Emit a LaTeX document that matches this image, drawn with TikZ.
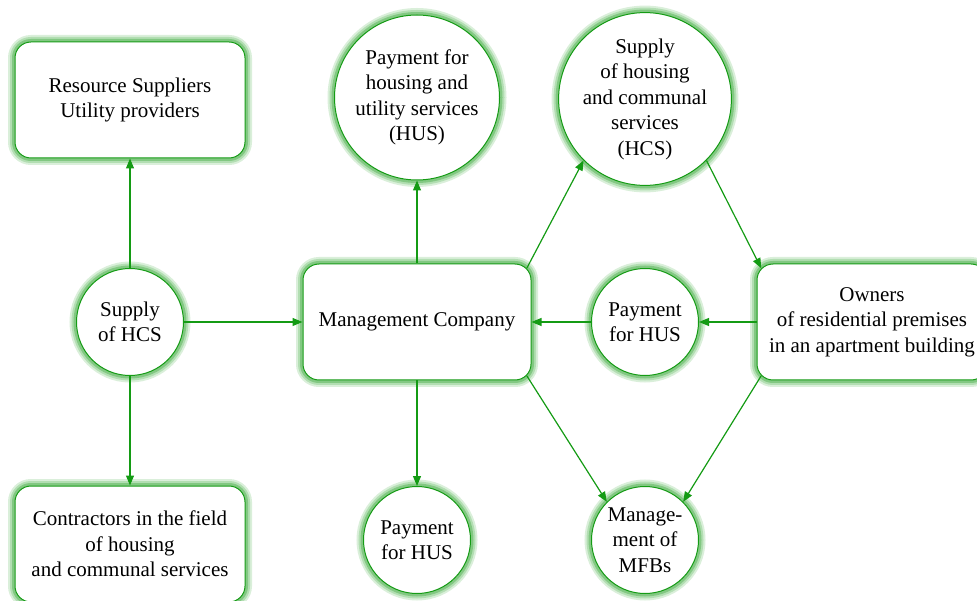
\documentclass[tikz,border=0pt]{standalone}
\usepackage{fontspec}
\setmainfont{Liberation Serif}
\usetikzlibrary{arrows.meta,calc}
\definecolor{lg}{RGB}{20,155,20}
\definecolor{glowA}{RGB}{218,239,218}
\definecolor{glowB}{RGB}{178,222,178}
\definecolor{glowC}{RGB}{130,200,130}
\tikzset{
 glow/.style={preaction={draw=glowA,line width=14pt},preaction={draw=glowB,line width=10pt},preaction={draw=glowC,line width=6pt}},
 base/.style={glow, draw=lg, line width=1pt, fill=white, align=center, font=\fontsize{21}{25.5}\selectfont, inner sep=0pt},
 box/.style={base, rectangle, rounded corners=16pt, minimum width=230pt, minimum height=116pt},
 bigc/.style={base, circle, minimum size=165pt},
 smallc/.style={base, circle, minimum size=107pt},
 conn/.style={draw=lg, line width=1.2pt, -{Triangle[length=10pt,width=8pt]}}
}
\begin{document}
\begin{tikzpicture}[x=1pt,y=1pt]
\useasboundingbox (0,0) rectangle (977,-601);
\node[box] (res) at (130,-100) {Resource Suppliers\\Utility providers};
\node[smallc] (sup) at (130,-322) {Supply\\of HCS};
\node[box] (con) at (130,-544) {Contractors in the field\\of housing\\and communal services};
\node[box, minimum width=228pt] (mc) at (417,-322) {Management Company};
\node[bigc] (ptop) at (417,-97.5) {Payment for\\housing and\\utility services\\(HUS)};
\node[smallc] (pbot) at (417,-540) {Payment\\for HUS};
\node[bigc] (hcs) at (645,-99) {Supply\\of housing\\and communal\\services\\(HCS)};
\node[smallc] (pmid) at (645,-322) {Payment\\for HUS};
\node[box] (own) at (872,-322) {Owners\\of residential premises\\in an apartment building};
\node[smallc] (mfb) at (645,-540) {Manage-\\ment of\\MFBs};
\coordinate (mcNE) at ($(mc.north east)+(-4.7,-4.7)$);
\coordinate (mcSE) at ($(mc.south east)+(-4.7,4.7)$);
\coordinate (ownNW) at ($(own.north west)+(4.7,-4.7)$);
\coordinate (ownSW) at ($(own.south west)+(4.7,4.7)$);
\draw[conn] (sup) -- (res);
\draw[conn] (sup) -- (con);
\draw[conn] (sup) -- (mc);
\draw[conn] (mc) -- (ptop);
\draw[conn] (mc) -- (pbot);
\draw[conn] (mcNE) -- (hcs.south west);
\draw[conn] (hcs.south east) -- (ownNW);
\draw[conn] (own) -- (pmid);
\draw[conn] (pmid) -- (mc);
\draw[conn] (mcSE) -- (mfb.north west);
\draw[conn] (ownSW) -- (mfb.north east);
\end{tikzpicture}
\end{document}
